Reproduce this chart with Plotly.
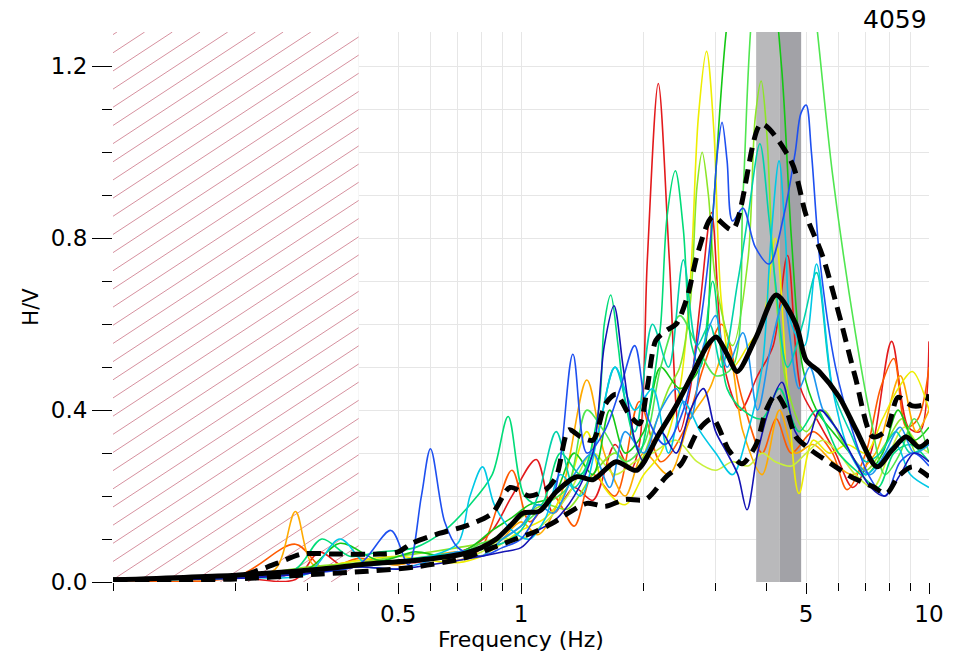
import numpy as np
import plotly.graph_objects as go

# ---------------- data ----------------
mean_f = [0.1, 0.2, 0.28, 0.35, 0.42, 0.55, 0.65, 0.73, 0.8, 0.87, 0.95, 1.01, 1.11, 1.22, 1.37, 1.5, 1.71,
          1.92, 2.18, 2.4, 2.63, 2.86, 3.01, 3.2, 3.39, 3.77, 4.22, 4.72, 5.0, 5.38, 6.03, 6.63, 7.46, 8.12,
          8.78, 9.45, 10]
mean_v = [0.005, 0.016, 0.025, 0.033, 0.042, 0.05, 0.058, 0.067, 0.08, 0.1, 0.135, 0.16, 0.165, 0.21, 0.245,
          0.238, 0.28, 0.26, 0.345, 0.41, 0.483, 0.55, 0.57, 0.53, 0.49, 0.57, 0.668, 0.6, 0.516, 0.49, 0.43,
          0.354, 0.268, 0.307, 0.338, 0.314, 0.33]

upper_f = [0.1, 0.2, 0.25, 0.29, 0.35, 0.45, 0.5, 0.54, 0.63, 0.73, 0.85, 0.94, 1.05, 1.15, 1.22, 1.31, 1.4,
           1.5, 1.61, 1.71, 1.84, 1.95, 2.04, 2.14, 2.27, 2.4, 2.55, 2.72, 2.95, 3.3, 3.88, 4.6, 5.0, 5.48,
           6.03, 6.6, 7.28, 7.87, 8.4, 9.1, 9.8, 10]
upper_v = [0.005, 0.012, 0.042, 0.065, 0.065, 0.065, 0.07, 0.09, 0.113, 0.13, 0.16, 0.22, 0.2, 0.215, 0.245,
           0.354, 0.338, 0.33, 0.414, 0.437, 0.39, 0.368, 0.453, 0.562, 0.585, 0.6, 0.66, 0.77, 0.85, 0.82,
           1.066, 0.978, 0.853, 0.76, 0.62, 0.476, 0.338, 0.354, 0.43, 0.41, 0.414, 0.437]

lower_f = [0.1, 0.2, 0.315, 0.42, 0.55, 0.72, 0.87, 0.97, 1.09, 1.19, 1.45, 1.61, 1.8, 2.02, 2.27, 2.47, 2.73,
           2.95, 3.23, 3.48, 3.77, 3.99, 4.22, 4.47, 4.72, 5.14, 5.76, 6.44, 7.28, 7.87, 8.4, 9.1, 10]
lower_v = [0.003, 0.007, 0.018, 0.025, 0.035, 0.055, 0.083, 0.1, 0.118, 0.136, 0.183, 0.176, 0.192, 0.192,
           0.245, 0.275, 0.355, 0.38, 0.307, 0.275, 0.32, 0.4, 0.437, 0.4, 0.338, 0.307, 0.275, 0.245, 0.222,
           0.206, 0.245, 0.268, 0.245]

red_f = [0.1, 0.2, 0.28, 0.32, 0.37, 0.45, 0.55, 0.65, 0.75, 0.85, 0.95, 1.09, 1.2, 1.35, 1.5, 1.7, 1.85, 1.95,
         2.04, 2.17, 2.31, 2.45, 2.6, 2.75, 2.93, 3.15, 3.45, 3.8, 4.15, 4.5, 4.85, 5.3, 5.9, 6.5, 7.2, 8.1, 8.9,
         9.5, 10]
red_v = [0.004, 0.01, 0.006, 0.07, 0.035, 0.05, 0.045, 0.06, 0.08, 0.12, 0.2, 0.285, 0.16, 0.22, 0.19, 0.32,
         0.26, 0.32, 0.75, 1.16, 0.75, 0.35, 0.45, 0.65, 0.86, 0.5, 0.4, 0.48, 0.55, 0.76, 0.45, 0.38, 0.3, 0.22,
         0.3, 0.56, 0.36, 0.35, 0.56]

orangered_f = [0.1, 0.2, 0.28, 0.33, 0.4, 0.5, 0.6, 0.7, 0.8, 0.95, 1.05, 1.2, 1.35, 1.5, 1.7, 1.95, 2.2, 2.5,
               2.8, 3.1, 3.5, 3.9, 4.22, 4.6, 5.2, 5.8, 6.3, 7.0, 7.6, 8.2, 8.8, 9.4, 10]
orangered_v = [0.005, 0.012, 0.088, 0.03, 0.055, 0.04, 0.06, 0.05, 0.08, 0.26, 0.14, 0.2, 0.13, 0.25, 0.2,
               0.42, 0.28, 0.35, 0.5, 0.6, 0.42, 0.3, 0.38, 0.3, 0.35, 0.3, 0.215, 0.3, 0.45, 0.52, 0.36, 0.38,
               0.5]

orange_f = [0.1, 0.2, 0.25, 0.28, 0.31, 0.4, 0.5, 0.6, 0.7, 0.8, 0.9, 1.0, 1.1, 1.25, 1.45, 1.6, 1.8, 2.0, 2.3,
            2.6, 2.9, 3.2, 3.5, 3.9, 4.3, 4.7, 5.2, 5.8, 6.5, 7.4, 8.5, 9.3, 10]
orange_v = [0.005, 0.01, 0.03, 0.164, 0.04, 0.05, 0.04, 0.06, 0.07, 0.06, 0.1, 0.14, 0.11, 0.2, 0.47, 0.3, 0.2,
            0.3, 0.25, 0.38, 0.45, 0.55, 0.35, 0.25, 0.4, 0.3, 0.32, 0.28, 0.25, 0.3, 0.48, 0.35, 0.4]

yellow_f = [0.1, 0.2, 0.3, 0.4, 0.5, 0.6, 0.7, 0.8, 0.9, 1.0, 1.15, 1.3, 1.45, 1.6, 1.8, 2.0, 2.2, 2.45, 2.6,
            2.72, 2.85, 2.97, 3.1, 3.3, 3.6, 3.9, 4.2, 4.5, 4.8, 5.2, 5.7, 6.3, 7.0, 7.7, 8.4, 9.1, 10]
yellow_v = [0.005, 0.012, 0.03, 0.05, 0.06, 0.05, 0.045, 0.06, 0.09, 0.12, 0.15, 0.22, 0.35, 0.22, 0.18, 0.25,
            0.3, 0.45, 0.7, 1.08, 1.235, 1.05, 0.65, 0.5, 0.55, 0.6, 0.8, 0.45, 0.206, 0.33, 0.3, 0.32, 0.3,
            0.38, 0.45, 0.49, 0.4]

ygreen_f = [0.1, 0.2, 0.3, 0.4, 0.5, 0.6, 0.7, 0.8, 0.9, 1.0, 1.15, 1.3, 1.5, 1.7, 1.9, 2.1, 2.4, 2.7, 3.0, 3.3,
            3.6, 3.9, 4.2, 4.6, 5.0, 5.5, 6.0, 6.6, 7.3, 8.0, 8.7, 9.4, 10]
ygreen_v = [0.005, 0.01, 0.025, 0.04, 0.05, 0.055, 0.05, 0.07, 0.1, 0.1, 0.14, 0.2, 0.3, 0.25, 0.28, 0.3, 0.33,
            0.28, 0.26, 0.28, 0.27, 0.3, 0.28, 0.27, 0.3, 0.33, 0.3, 0.25, 0.22, 0.3, 0.36, 0.32, 0.3]

chart_f = [0.1, 0.2, 0.3, 0.4, 0.5, 0.6, 0.7, 0.8, 0.9, 1.0, 1.15, 1.3, 1.5, 1.7, 1.9, 2.1, 2.3, 2.45, 2.6,
           2.7, 2.78, 2.88, 3.0, 3.3, 3.6, 3.75, 3.88, 4.0, 4.15, 4.5, 5.0, 5.5, 6.2, 7.0, 7.8, 8.6, 9.3, 10]
chart_v = [0.005, 0.012, 0.035, 0.045, 0.06, 0.07, 0.08, 0.09, 0.11, 0.15, 0.18, 0.17, 0.25, 0.3, 0.26, 0.35,
           0.45, 0.5, 0.65, 0.92, 1.0, 0.9, 0.7, 0.55, 0.75, 1.08, 1.166, 1.05, 0.75, 0.45, 0.35, 0.4, 0.32,
           0.26, 0.32, 0.38, 0.3, 0.33]

green_f = [0.1, 0.2, 0.3, 0.36, 0.45, 0.55, 0.65, 0.75, 0.85, 0.95, 1.05, 1.2, 1.35, 1.5, 1.65, 1.8, 2.0, 2.2,
           2.45, 2.75, 2.95, 3.2, 3.6, 4.0, 4.35, 4.6, 4.9, 5.3, 5.8, 6.4, 7.0, 7.7, 8.4, 9.2, 10]
green_v = [0.005, 0.012, 0.03, 0.09, 0.05, 0.07, 0.06, 0.08, 0.12, 0.15, 0.18, 0.2, 0.3, 0.25, 0.4, 0.3, 0.35,
           0.5, 0.45, 0.5, 0.85, 1.3, 1.6, 1.5, 1.2, 0.8, 0.5, 0.4, 0.35, 0.3, 0.25, 0.3, 0.4, 0.33, 0.36]

lgreen_f = [0.1, 0.2, 0.3, 0.4, 0.5, 0.6, 0.7, 0.8, 0.9, 1.0, 1.15, 1.3, 1.45, 1.6, 1.8, 2.0, 2.2, 2.45, 2.7,
            3.0, 3.3, 3.5, 3.7, 4.2, 4.8, 5.3, 5.8, 6.6, 7.2, 7.8, 8.5, 9.2, 10]
lgreen_v = [0.005, 0.01, 0.03, 0.04, 0.05, 0.06, 0.06, 0.09, 0.1, 0.13, 0.18, 0.22, 0.4, 0.35, 0.28, 0.32, 0.5,
            0.62, 0.55, 0.48, 0.5, 0.9, 1.35, 1.7, 1.65, 1.3, 0.95, 0.58, 0.38, 0.25, 0.3, 0.38, 0.3]

spring_f = [0.1, 0.2, 0.28, 0.325, 0.38, 0.45, 0.55, 0.65, 0.75, 0.85, 0.93, 1.02, 1.12, 1.25, 1.4, 1.55, 1.6,
            1.66, 1.73, 1.8, 1.95, 2.1, 2.2, 2.28, 2.39, 2.5, 2.62, 2.75, 2.95, 3.2, 3.5, 3.9, 4.3, 4.8, 5.3, 6.0,
            6.8, 7.5, 8.2, 9.0, 10]
spring_v = [0.005, 0.012, 0.03, 0.1, 0.06, 0.07, 0.08, 0.12, 0.18, 0.25, 0.385, 0.2, 0.18, 0.3, 0.25, 0.4, 0.6,
            0.668, 0.55, 0.42, 0.3, 0.45, 0.6, 0.85, 0.957, 0.82, 0.55, 0.5, 0.7, 0.45, 0.4, 0.38, 0.45, 0.35,
            0.4, 0.3, 0.25, 0.22, 0.3, 0.32, 0.28]

aqua_f = [0.1, 0.2, 0.3, 0.4, 0.5, 0.6, 0.7, 0.8, 0.9, 1.0, 1.1, 1.22, 1.35, 1.5, 1.7, 1.9, 2.1, 2.3, 2.5, 2.7,
          2.9, 3.1, 3.4, 3.6, 3.85, 4.05, 4.2, 4.5, 4.9, 5.3, 5.8, 6.4, 7.0, 7.6, 8.3, 9.0, 10]
aqua_v = [0.005, 0.01, 0.03, 0.04, 0.05, 0.06, 0.07, 0.08, 0.09, 0.12, 0.2, 0.35, 0.22, 0.3, 0.5, 0.35, 0.6, 0.5,
          0.75, 0.55, 0.6, 0.5, 0.7, 0.85, 1.02, 0.85, 0.7, 0.5, 0.6, 0.72, 0.45, 0.35, 0.28, 0.3, 0.35, 0.3,
          0.32]

cyan_f = [0.1, 0.2, 0.3, 0.36, 0.42, 0.5, 0.6, 0.7, 0.75, 0.805, 0.86, 0.95, 1.05, 1.15, 1.25, 1.4, 1.55, 1.7,
          1.9, 2.1, 2.3, 2.5, 2.75, 3.0, 3.3, 3.6, 3.9, 4.1, 4.29, 4.45, 4.6, 4.95, 5.3, 5.8, 6.4, 7.0, 7.6,
          8.3, 9.0, 10]
cyan_v = [0.005, 0.01, 0.02, 0.1, 0.04, 0.05, 0.06, 0.09, 0.2, 0.268, 0.18, 0.12, 0.1, 0.15, 0.25, 0.2, 0.35,
          0.5, 0.4, 0.45, 0.3, 0.42, 0.35, 0.3, 0.25, 0.35, 0.5, 0.8, 0.98, 0.8, 0.6, 0.55, 0.74, 0.45, 0.3,
          0.25, 0.28, 0.32, 0.25, 0.22]

sky_f = [0.1, 0.2, 0.3, 0.4, 0.5, 0.6, 0.7, 0.8, 0.9, 1.0, 1.1, 1.2, 1.35, 1.5, 1.65, 1.8, 2.0, 2.2, 2.4, 2.6,
         2.8, 3.0, 3.2, 3.5, 3.8, 4.1, 4.4, 4.8, 5.1, 5.5, 6.0, 6.6, 7.2, 7.8, 8.5, 9.2, 10]
sky_v = [0.005, 0.01, 0.02, 0.035, 0.03, 0.05, 0.07, 0.06, 0.1, 0.13, 0.18, 0.16, 0.25, 0.3, 0.22, 0.35, 0.3,
         0.4, 0.45, 0.38, 0.55, 0.62, 0.5, 0.58, 0.4, 0.55, 0.65, 0.45, 0.5, 0.4, 0.35, 0.28, 0.25, 0.3, 0.36,
         0.3, 0.32]

blue_f = [0.1, 0.2, 0.3, 0.4, 0.48, 0.53, 0.57, 0.6, 0.65, 0.7, 0.8, 0.9, 1.0, 1.1, 1.2, 1.34, 1.45, 1.6, 1.75,
          1.9, 2.05, 2.25, 2.5, 2.75, 2.95, 3.03, 3.11, 3.2, 3.3, 3.5, 3.75, 4.06, 4.4, 4.7, 4.85, 5.0, 5.15,
          5.4, 5.9, 6.5, 7.1, 7.8, 8.5, 9.2, 10]
blue_v = [0.005, 0.01, 0.02, 0.04, 0.12, 0.04, 0.2, 0.31, 0.14, 0.08, 0.06, 0.08, 0.1, 0.16, 0.2, 0.53, 0.3,
          0.35, 0.45, 0.55, 0.38, 0.32, 0.4, 0.6, 0.85, 1.0, 1.07, 0.98, 0.84, 0.87, 0.78, 0.74, 0.85, 1.0, 1.09,
          1.11, 1.0, 0.75, 0.5, 0.35, 0.25, 0.2, 0.28, 0.3, 0.27]

dblue_f = [0.1, 0.2, 0.3, 0.4, 0.5, 0.6, 0.7, 0.8, 0.9, 1.0, 1.1, 1.2, 1.35, 1.5, 1.6, 1.69, 1.78, 1.9, 2.0,
           2.2, 2.4, 2.6, 2.8, 3.0, 3.2, 3.4, 3.58, 3.8, 4.05, 4.36, 4.7, 5.0, 5.4, 6.0, 6.6, 7.2, 7.8, 8.5, 9.2,
           10]
dblue_v = [0.005, 0.008, 0.02, 0.035, 0.03, 0.04, 0.05, 0.06, 0.07, 0.08, 0.12, 0.14, 0.2, 0.3, 0.55, 0.643,
           0.5, 0.33, 0.28, 0.35, 0.3, 0.4, 0.45, 0.35, 0.3, 0.25, 0.168, 0.3, 0.4, 0.465, 0.35, 0.32, 0.4, 0.35,
           0.28, 0.22, 0.2, 0.25, 0.3, 0.28]

window_series = [
    ("#e31a1c", red_f, red_v),
    ("#ff5a00", orangered_f, orangered_v),
    ("#ffaa00", orange_f, orange_v),
    ("#eeee00", yellow_f, yellow_v),
    ("#c8f03c", ygreen_f, ygreen_v),
    ("#8ce628", chart_f, chart_v),
    ("#14c814", green_f, green_v),
    ("#50e650", lgreen_f, lgreen_v),
    ("#00dc78", spring_f, spring_v),
    ("#00d2aa", aqua_f, aqua_v),
    ("#00c8e6", cyan_f, cyan_v),
    ("#1e96f0", sky_f, sky_v),
    ("#1e50f0", blue_f, blue_v),
    ("#1414b4", dblue_f, dblue_v),
]

x_range_hz = [0.1, 10]
y_max = 1.28
invalid_limit_hz = 0.4          # hatched (unreliable) low-frequency zone
peak_band_hz = [3.77, 4.31, 4.86]  # f0 - std, f0, f0 + std
title_id = "4059"

# ---------------- layout geometry ----------------
W, H = 956, 658
ML, MR, MT, MB = 113, 26, 32, 72
PW, PH = W - ML - MR, H - MT - MB
FONT = "DejaVu Sans"

fig = go.Figure()

# white cover of the hatched zone (hides gridlines)
fig.add_trace(go.Scatter(x=[0.1, 0.1, invalid_limit_hz, invalid_limit_hz, 0.1], y=[0, y_max, y_max, 0, 0],
                         fill="toself", fillcolor="white", line=dict(width=0), mode="lines",
                         hoverinfo="skip", showlegend=False))

# hatch lines, computed in pixel space, converted to data coordinates
lx0, lx1 = np.log10(x_range_hz[0]), np.log10(x_range_hz[1])
hw = PW * (np.log10(invalid_limit_hz) - lx0) / (lx1 - lx0)
slope, step = 0.66, 18.3
hx, hy = [], []
c = -slope * hw
while c < PH:
    xa = max(0.0, -c / slope)
    xb = min(hw, (PH - c) / slope)
    if xb > xa:
        for px in (xa, xb):
            py = slope * px + c
            hx.append(10 ** (lx0 + (lx1 - lx0) * px / PW))
            hy.append(py / PH * y_max)
        hx.append(None)
        hy.append(None)
    c += step
fig.add_trace(go.Scatter(x=hx, y=hy, mode="lines", line=dict(color="#d6919f", width=1),
                         hoverinfo="skip", showlegend=False))

# peak frequency band
fig.add_trace(go.Scatter(x=[peak_band_hz[0], peak_band_hz[0], peak_band_hz[1], peak_band_hz[1]],
                         y=[0, y_max, y_max, 0], fill="toself", fillcolor="#b9b9bb", line=dict(width=0),
                         mode="lines", hoverinfo="skip", showlegend=False))
fig.add_trace(go.Scatter(x=[peak_band_hz[1], peak_band_hz[1], peak_band_hz[2], peak_band_hz[2]],
                         y=[0, y_max, y_max, 0], fill="toself", fillcolor="#a2a2a7", line=dict(width=0),
                         mode="lines", hoverinfo="skip", showlegend=False))

for col, f, v in window_series:
    fig.add_trace(go.Scatter(x=f, y=v, mode="lines",
                             line=dict(color=col, width=1.6, shape="spline", smoothing=0.9),
                             showlegend=False))

for f, v in ((upper_f, upper_v), (lower_f, lower_v)):
    fig.add_trace(go.Scatter(x=f, y=v, mode="lines",
                             line=dict(color="black", width=5, dash="14px,8px", shape="spline", smoothing=0.8),
                             showlegend=False))
fig.add_trace(go.Scatter(x=mean_f, y=mean_v, mode="lines",
                         line=dict(color="black", width=5, shape="spline", smoothing=0.8),
                         showlegend=False))

grid = "#e6e6e6"
tickfont = dict(family=FONT, size=23, color="black")
fig.update_layout(
    width=W, height=H, autosize=False,
    margin=dict(l=ML, r=MR, t=MT, b=MB, pad=0),
    paper_bgcolor="white", plot_bgcolor="white",
    showlegend=False,
    font=dict(family=FONT, color="black"),
    xaxis=dict(type="log", range=[lx0, lx1],
               tickvals=[0.5, 1, 5, 10], ticktext=["0.5", "1", "5", "10"],
               ticks="outside", ticklen=11, tickwidth=1, tickcolor="black",
               showgrid=True, gridcolor=grid, gridwidth=1, zeroline=False, showline=False,
               minor=dict(tickvals=[0.1, 0.2, 0.3, 0.4, 0.6, 0.7, 0.8, 0.9, 2, 3, 4, 6, 7, 8, 9],
                          ticks="outside", ticklen=8, tickcolor="black", showgrid=True, gridcolor=grid),
               tickfont=tickfont,
               title=dict(text="Frequency (Hz)", font=dict(family=FONT, size=22, color="black"), standoff=4)),
    yaxis=dict(range=[0, y_max],
               tickvals=[0, 0.4, 0.8, 1.2], ticktext=["0.0", "0.4", "0.8", "1.2"],
               ticks="outside", ticklen=20, tickwidth=1, tickcolor="black",
               showgrid=True, gridcolor=grid, zeroline=False, showline=False,
               minor=dict(tickvals=[0.1, 0.2, 0.3, 0.5, 0.6, 0.7, 0.9, 1.0, 1.1],
                          ticks="outside", ticklen=10, tickcolor="black", showgrid=True, gridcolor=grid),
               tickfont=tickfont,
               title=dict(text="H/V", font=dict(family=FONT, size=21, color="black"), standoff=6)),
    annotations=[dict(text=title_id, xref="paper", yref="paper", x=1, y=1 + (MT - 19) / PH,
                      xanchor="right", yanchor="middle", showarrow=False,
                      font=dict(family=FONT, size=25, color="black"))],
)

fig.write_html("out.html")
